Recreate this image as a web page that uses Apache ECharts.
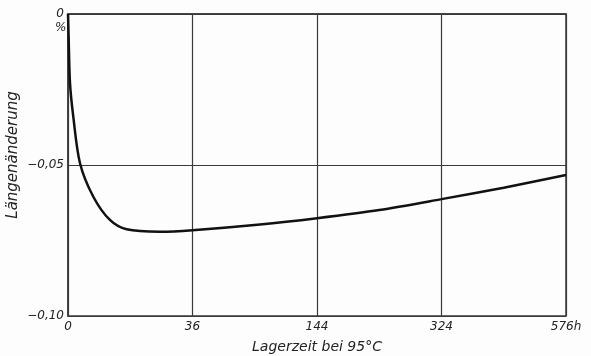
<!DOCTYPE html>
<html>
<head>
<meta charset="utf-8">
<script src="https://cdn.jsdelivr.net/npm/echarts@6/dist/echarts.min.js"></script>
<style>
  html, body { margin: 0; padding: 0; background: #fdfdfd; }
  #chart { width: 591px; height: 356px; }
</style>
</head>
<body>
<div id="chart"></div>
<script>
// Lagerzeit in h (x-Achse ist in Wurzel(h) geteilt)
var hours = [0, 0.001, 0.0092, 0.065, 0.334, 1.49, 4.08, 8, 19.6, 36, 85.6, 144, 225, 324, 441, 576]
// Längenänderung in %
var change = [0, -0.008, -0.0228, -0.034, -0.0494, -0.0605, -0.0682, -0.0713, -0.0721, -0.0716, -0.0697, -0.0676, -0.0649, -0.0613, -0.0575, -0.0533]
var xTicks = [0, 36, 144, 324, 576]

var font = 'DejaVu Sans'
var lineCol = '#3a3a3a'

var points = hours.map(function (h, i) { return [Math.sqrt(h), change[i]] })

var chart = echarts.init(document.getElementById('chart'))
chart.setOption({
  backgroundColor: '#fdfdfd',
  animation: false,
  grid: { left: 68, right: 25, top: 14, bottom: 40, outerBoundsMode: 'none', containLabel: false,
    show: true, borderColor: lineCol, borderWidth: 1.5 },
  xAxis: {
    type: 'value', min: 0, max: 24, interval: 6,
    name: 'Lagerzeit bei 95°C', nameLocation: 'middle', nameGap: 24,
    nameTextStyle: { fontFamily: font, fontStyle: 'italic', fontSize: 14, color: '#222' },
    axisLine: { lineStyle: { color: lineCol, width: 1.5 } },
    axisTick: { show: false },
    splitLine: { lineStyle: { color: lineCol, width: 1.2 } },
    axisLabel: {
      fontFamily: font, fontStyle: 'italic', fontSize: 12, color: '#222', margin: 5,
      formatter: function (v) {
        var t = Math.round(v * v)
        if (xTicks.indexOf(t) < 0) return ''
        return t === 576 ? '576h' : String(t)
      }
    }
  },
  yAxis: {
    type: 'value', min: -0.10, max: 0, interval: 0.05,
    axisLine: { lineStyle: { color: lineCol, width: 1.5 } },
    axisTick: { show: false },
    splitLine: { lineStyle: { color: lineCol, width: 1.2 } },
    axisLabel: {
      fontFamily: font, fontStyle: 'italic', fontSize: 12, color: '#222', margin: 4,
      formatter: function (v) {
        if (v === 0) return '0'
        return '\u2212' + Math.abs(v).toFixed(2).replace('.', ',')
      }
    }
  },
  graphic: [{
    type: 'text', x: 55, y: 22,
    style: { text: '%', font: 'italic 12px DejaVu Sans', fill: '#222' }
  }, {
    type: 'text', x: 13, y: 155, rotation: Math.PI / 2,
    style: { text: 'Längenänderung', font: 'italic 15px DejaVu Sans', fill: '#222',
      align: 'center', verticalAlign: 'middle' }
  }],
  series: [{
    type: 'line',
    data: points,
    smooth: 0.3,
    showSymbol: false,
    lineStyle: { color: '#111', width: 2.5 }
  }]
})
</script>
</body>
</html>
